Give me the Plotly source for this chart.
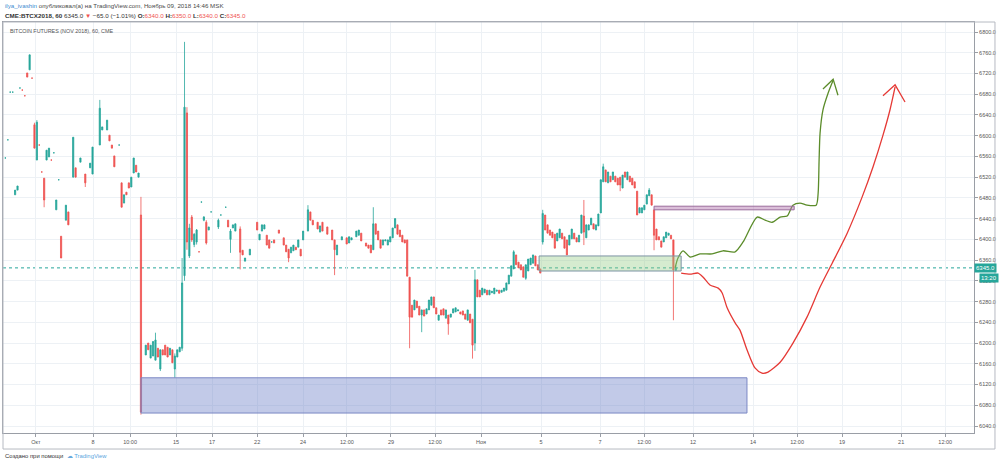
import plotly.graph_objects as go

# ---------------- data (hourly candles, x = bar slot on the compressed time axis) ----------------
bar_index = [1,2,3,4,5,6,7,8,9,10,11,12,13,14,15,16,17,18,19,20,21,22,23,24,
             26,27,29,30,32,34,36,37,40,41,43,44,45,46,48,49,50,51,52,53,54,55,56,57,
             59,60,61,62,63,64,65,66,67,68,69,70,71,72,73,74,75,76,77,78,79,80,
             81,82,83,84,85,86,89,90,92,93,94,95,96,98,99,100,102,105,106,107,108,109,110,111,112,
             114,116,117,118,119,120,121,122,123,124,126,127,128,130,131,132,134,136,137,
             138,140,142,143,144,146,147,148,150,151,152,153,154,155,156,157,158,159,160,161,162,163,164,165,166,167,168,
             169,170,171,172,173,174,175,176,177,178,179,180,181,182,183,184,185,186,187,188,
             189,190,191,192,193,194,195,196,197,198,199,200,201,202,203,204,205,206,207,208,
             209,210,211,212,213,214,215,216,217,218,219,220,221,222,
             223,224,225,226,227,228,229,230,231,232,233,234,235,236,237,238,239,240,241,242,
             243,244,245,246,247,248,249,250,251,252,253,254,255,256,257,258,259,260,261,262,
             263,264,265,266,267,268,269,270,271,272,273,274,275,276,277,278]

open_px = [6557,6592,6684,6684,6486,6495,6692,6688,6677,6721,6727,6711,6621,6553,6582,6530,6518,6553,6559,6553,6567,6457,6515,6406,
           6437,6453,6520,6538,6549,6526,6538,6526,6582,6611,6611,6601,6582,6561,6582,6509,6470,6491,6509,6501,6528,6543,6520,6447,
           6177,6200,6171,6175,6167,6190,6150,6187,6196,6192,6177,6187,6150,6173,6183,6190,6330,6644,6368,6443,6390,6395,
           6376,6472,6437,6433,6418,6453,6424,6447,6462,6437,6400,6422,6416,6420,6379,6358,6370,6433,6399,6416,6420,6408,6399,6395,6399,
           6418,6403,6389,6381,6374,6378,6385,6385,6381,6399,6416,6453,6437,6433,6414,6433,6424,6418,6399,
           6370,6399,6403,6393,6399,6405,6408,6412,6393,6389,6389,6380,6430,6416,6399,6389,6397,6389,6395,6403,6422,6428,6418,6408,6399,6399,6327,
           6273,6264,6281,6271,6254,6264,6256,6264,6273,6289,6268,6244,6264,6266,6248,6254,6250,6258,6260,6262,
           6260,6262,6256,6244,6256,6246,6200,6322,6302,6293,6297,6302,6293,6297,6295,6300,6302,6298,6300,6302,
           6314,6329,6343,6370,6356,6351,6347,6325,6339,6351,6354,6368,6351,6343,
           6395,6447,6428,6418,6414,6410,6397,6403,6412,6405,6399,6389,6401,6412,6403,6395,6412,6445,6403,6418,
           6428,6430,6418,6426,6451,6511,6534,6509,6522,6515,6522,6518,6520,6499,6530,6515,6522,6518,6511,6493,
           6451,6451,6457,6468,6484,6486,6457,6420,6405,6397,6395,6403,6408,6408,6399,6340]

high_px = [6557,6592,6684,6684,6495,6503,6692,6688,6677,6721,6756,6711,6625,6630,6582,6530,6518,6572,6576,6553,6567,6476,6515,6406,
           6466,6453,6597,6538,6557,6526,6547,6578,6669,6617,6630,6601,6582,6561,6582,6509,6486,6491,6509,6520,6557,6543,6528,6482,
           6196,6200,6196,6203,6220,6190,6187,6187,6196,6192,6190,6187,6180,6187,6192,6364,6781,6655,6430,6447,6412,6420,
           6376,6472,6445,6437,6424,6453,6440,6447,6462,6437,6420,6428,6430,6425,6379,6364,6381,6433,6410,6428,6428,6408,6399,6395,6399,
           6418,6403,6389,6381,6385,6389,6385,6399,6381,6416,6466,6453,6437,6433,6426,6433,6424,6418,6399,
           6389,6405,6403,6405,6403,6416,6418,6412,6393,6389,6389,6462,6430,6416,6399,6399,6399,6399,6405,6422,6441,6428,6418,6408,6399,6399,6327,
           6273,6283,6281,6271,6264,6264,6266,6283,6289,6289,6268,6254,6264,6266,6264,6254,6256,6266,6268,6264,
           6260,6262,6256,6264,6256,6246,6341,6322,6302,6306,6304,6302,6302,6300,6306,6302,6302,6302,6306,6316,
           6331,6349,6379,6370,6356,6351,6347,6351,6362,6364,6370,6368,6351,6343,
           6457,6447,6428,6418,6414,6410,6412,6420,6412,6405,6399,6408,6420,6412,6403,6408,6447,6476,6428,6428,
           6441,6430,6428,6449,6515,6546,6534,6530,6522,6530,6522,6518,6520,6524,6530,6530,6522,6518,6511,6493,
           6461,6461,6466,6486,6499,6486,6457,6420,6405,6397,6405,6414,6412,6408,6399,6350]

low_px = [6557,6592,6684,6684,6486,6495,6692,6688,6677,6713,6727,6711,6576,6553,6582,6530,6462,6553,6559,6553,6567,6457,6515,6364,
          6437,6428,6520,6520,6549,6501,6538,6526,6582,6611,6611,6590,6576,6540,6582,6462,6470,6486,6499,6501,6528,6530,6520,6062,
          6177,6187,6171,6175,6167,6173,6146,6177,6177,6173,6177,6162,6133,6173,6183,6185,6320,6380,6364,6395,6385,6390,
          6376,6472,6435,6390,6418,6453,6420,6447,6462,6424,6374,6422,6416,6342,6370,6358,6370,6418,6399,6416,6420,6389,6383,6395,6393,
          6412,6389,6376,6356,6374,6378,6380,6385,6368,6399,6416,6437,6428,6420,6414,6416,6410,6399,6331,
          6370,6399,6391,6393,6399,6405,6408,6397,6387,6383,6374,6380,6410,6399,6383,6389,6397,6389,6395,6403,6422,6410,6405,6395,6393,6329,6190,
          6250,6264,6268,6254,6221,6252,6256,6264,6273,6268,6256,6244,6254,6254,6248,6216,6250,6258,6260,6262,
          6256,6254,6246,6244,6239,6170,6185,6289,6289,6293,6297,6293,6293,6297,6295,6300,6296,6298,6300,6302,
          6314,6329,6343,6351,6345,6341,6327,6322,6339,6351,6354,6349,6341,6335,
          6390,6418,6412,6408,6403,6383,6397,6403,6401,6383,6370,6389,6401,6401,6395,6395,6412,6389,6403,6418,
          6428,6420,6418,6426,6451,6511,6511,6509,6511,6515,6511,6505,6493,6499,6520,6515,6511,6505,6499,6447,
          6451,6451,6457,6468,6484,6466,6379,6399,6399,6385,6395,6403,6408,6401,6244,6340]

close_px = [6557,6592,6684,6684,6495,6503,6692,6688,6677,6713,6756,6711,6576,6626,6582,6530,6476,6572,6576,6553,6567,6476,6515,6364,
            6466,6428,6597,6520,6557,6509,6547,6578,6653,6617,6630,6590,6576,6540,6582,6462,6486,6486,6499,6520,6557,6530,6528,6067,
            6196,6187,6196,6203,6206,6173,6187,6177,6177,6173,6190,6162,6175,6187,6192,6316,6655,6395,6422,6399,6410,6418,
            6376,6472,6443,6393,6424,6453,6437,6447,6462,6424,6416,6428,6430,6375,6370,6364,6381,6418,6410,6428,6428,6389,6383,6395,6393,
            6412,6389,6376,6364,6385,6389,6380,6399,6368,6416,6457,6437,6428,6420,6426,6416,6410,6399,6380,
            6389,6405,6391,6405,6403,6416,6418,6397,6387,6383,6374,6430,6410,6399,6383,6399,6399,6399,6405,6422,6440,6410,6405,6395,6393,6329,6250,
            6250,6283,6268,6254,6264,6252,6266,6283,6289,6268,6256,6254,6254,6254,6264,6237,6256,6266,6268,6264,
            6256,6254,6246,6264,6239,6196,6322,6289,6289,6306,6304,6293,6302,6300,6306,6302,6296,6302,6306,6316,
            6331,6349,6376,6351,6345,6341,6327,6351,6362,6364,6370,6349,6341,6335,
            6450,6418,6412,6408,6403,6383,6412,6420,6401,6383,6370,6408,6420,6401,6395,6408,6447,6414,6428,6428,
            6441,6420,6428,6449,6515,6540,6511,6530,6511,6530,6511,6505,6505,6524,6520,6530,6511,6505,6499,6447,
            6461,6461,6466,6486,6495,6466,6408,6399,6399,6385,6405,6414,6412,6401,6341,6345]

# time-axis labels
tick_bars = [13.6, 37.2, 52.5, 71.5, 86.4, 105.0, 124.0, 142.1, 160.3, 178.5, 197.5,
             222.3, 246.7, 264.9, 285.1, 309.9, 328.1, 346.7, 371.1, 389.3]
tick_labels = ["Окт", "8", "10:00", "15", "17", "22", "24", "12:00", "29", "12:00", "Ноя",
               "5", "7", "12:00", "12", "14", "12:00", "19", "21", "12:00"]
price_ticks = list(range(6040, 6801, 40))

# drawn zones (bar start, bar end, low price, high price)
zone_x0 = [57.0, 221.5, 269.0]
zone_x1 = [307.4, 280.2, 326.9]
zone_lo = [6065, 6339, 6457]
zone_hi = [6133, 6368, 6464]
zone_fill = ["rgba(110,128,200,0.42)", "rgba(150,205,135,0.40)", "rgba(175,110,170,0.45)"]
zone_line = ["#7b88c4", "#7d93a3", "#9a6c9c"]

# hand-drawn scenario paths
green_bar = [277.7, 278.9, 281.0, 283.9, 288.0, 293.0, 297.5, 302.5, 305.8, 311.6, 314.9, 317.8,
             321.1, 324.0, 326.4, 329.3, 332.2, 336.0, 336.8, 337.2, 337.6, 338.8, 340.9, 343.0]
green_price = [6345, 6364, 6378, 6366, 6372, 6372, 6378, 6376, 6395, 6443, 6437, 6433,
               6443, 6445, 6466, 6470, 6466, 6466, 6489, 6553, 6605, 6650, 6682, 6707]
green_head_bar = [338.8, 343.0, 345.0]
green_head_price = [6690, 6709, 6678]

red_bar = [280.2, 283.9, 287.2, 289.3, 292.1, 295.5, 297.1, 299.2, 302.5, 304.5, 307.4, 310.7, 313.6,
           316.1, 321.1, 326.4, 332.2, 337.6, 342.6, 348.8, 355.0, 359.5, 363.6, 366.5, 368.6]
red_price = [6335, 6333, 6335, 6327, 6312, 6306, 6297, 6268, 6239, 6225, 6187, 6152, 6142,
             6144, 6163, 6200, 6250, 6308, 6354, 6412, 6482, 6540, 6601, 6650, 6694]
red_head_bar = [363.6, 368.6, 372.7]
red_head_price = [6677, 6698, 6665]

last_price = 6345.0

# ---------------- figure ----------------
UP = "#26a69a"
DOWN = "#ef5350"
FONT = "Liberation Sans"

fig = go.Figure()
fig.add_trace(go.Candlestick(
    x=bar_index, open=open_px, high=high_px, low=low_px, close=close_px,
    increasing=dict(line=dict(color=UP, width=0.8), fillcolor=UP),
    decreasing=dict(line=dict(color=DOWN, width=0.8), fillcolor=DOWN),
    whiskerwidth=0, hoverinfo="skip", showlegend=False))

for x0, x1, lo, hi, fc, lc in zip(zone_x0, zone_x1, zone_lo, zone_hi, zone_fill, zone_line):
    fig.add_shape(type="rect", xref="x", yref="y", x0=x0, x1=x1, y0=lo, y1=hi,
                  fillcolor=fc, line=dict(color=lc, width=1), layer="above")

fig.add_trace(go.Scatter(x=green_bar, y=green_price, mode="lines",
                         line=dict(color="#5b8c2a", width=1.3, shape="spline", smoothing=0.7),
                         hoverinfo="skip", showlegend=False))
fig.add_trace(go.Scatter(x=green_head_bar, y=green_head_price, mode="lines",
                         line=dict(color="#5b8c2a", width=1.3), hoverinfo="skip", showlegend=False))
fig.add_trace(go.Scatter(x=red_bar, y=red_price, mode="lines",
                         line=dict(color="#e53935", width=1.3, shape="spline", smoothing=0.7),
                         hoverinfo="skip", showlegend=False))
fig.add_trace(go.Scatter(x=red_head_bar, y=red_head_price, mode="lines",
                         line=dict(color="#e53935", width=1.3), hoverinfo="skip", showlegend=False))

# last price dotted line
fig.add_shape(type="line", xref="paper", yref="y", x0=0, x1=1, y0=last_price, y1=last_price,
              line=dict(color=UP, width=1, dash="dot"), layer="below")

# outer frame (includes the axis strips)
fig.add_shape(type="rect", xref="paper", yref="paper", x0=0, x1=1.0216, y0=-0.039, y1=1,
              line=dict(color="#b6bac2", width=1), fillcolor="rgba(0,0,0,0)")

annotations = [
    dict(xref="paper", yref="paper", x=0, y=1.041, xanchor="left", yanchor="middle", showarrow=False,
         text='<span style="color:#3d8bd0">ilya_ivashin</span> опубликовал(а) на TradingView.com, Ноябрь 09, 2018 14:46 MSK',
         font=dict(family=FONT, size=6.2, color="#4a4a4a")),
    dict(xref="paper", yref="paper", x=0, y=1.017, xanchor="left", yanchor="middle", showarrow=False,
         text=('<b>CME:BTCX2018, 60</b> 6345.0 <span style="color:#ef5350">▼</span> −65.0 (−1.01%) '
               '<b>O:</b><span style="color:#ef5350">6340.0</span> <b>H:</b><span style="color:#ef5350">6350.0</span> '
               '<b>L:</b><span style="color:#ef5350">6340.0</span> <b>C:</b><span style="color:#ef5350">6345.0</span>'),
         font=dict(family=FONT, size=6.25, color="#333333")),
    dict(xref="paper", yref="paper", x=0.005, y=0.978, xanchor="left", yanchor="middle", showarrow=False,
         text="BITCOIN FUTURES (NOV 2018), 60, CME", font=dict(family=FONT, size=5.4, color="#555555")),
    dict(xref="paper", yref="paper", x=0, y=-0.057, xanchor="left", yanchor="middle", showarrow=False,
         text='Создано при помощи  <span style="color:#6aa8dc">☁</span> <span style="color:#5aa6e0">TradingView</span>',
         font=dict(family=FONT, size=5.9, color="#333333")),
    dict(xref="paper", yref="y", x=1, y=last_price, xanchor="left", yanchor="middle", showarrow=False,
         text="6345.0", bgcolor=UP, borderpad=1, xshift=0,
         font=dict(family=FONT, size=6, color="#ffffff")),
    dict(xref="paper", yref="y", x=1, y=last_price, xanchor="left", yanchor="middle", showarrow=False,
         text="13:20", bgcolor=UP, borderpad=1, xshift=5, yshift=-10,
         font=dict(family=FONT, size=6, color="#ffffff")),
]

fig.update_layout(
    width=1000, height=465,
    margin=dict(l=3, r=26, t=22, b=32),
    paper_bgcolor="#ffffff", plot_bgcolor="#ffffff",
    showlegend=False,
    annotations=annotations,
    font=dict(family=FONT, size=6, color="#555555"),
    xaxis=dict(range=[0, 401.2], tickmode="array", tickvals=tick_bars, ticktext=tick_labels,
               showgrid=True, gridcolor="#edf1f5", gridwidth=1, zeroline=False,
               ticks="outside", ticklen=3, tickcolor="#9a9ea6",
               tickfont=dict(family=FONT, size=5.5, color="#555555"),
               showline=True, linecolor="#9a9ea6", linewidth=1, mirror=True,
               rangeslider=dict(visible=False), fixedrange=True),
    yaxis=dict(range=[6026.5, 6819.3], side="right", tickmode="array", tickvals=price_ticks,
               tickformat=".1f", showgrid=True, gridcolor="#edf1f5", gridwidth=1, zeroline=False,
               ticks="outside", ticklen=3, tickcolor="#9a9ea6",
               tickfont=dict(family=FONT, size=5.5, color="#555555"),
               showline=True, linecolor="#9a9ea6", linewidth=1, mirror=True, fixedrange=True),
)

fig.write_html("out.html", config={"displayModeBar": False},
               post_script="document.body.style.margin='0';document.body.style.overflow='hidden';")
